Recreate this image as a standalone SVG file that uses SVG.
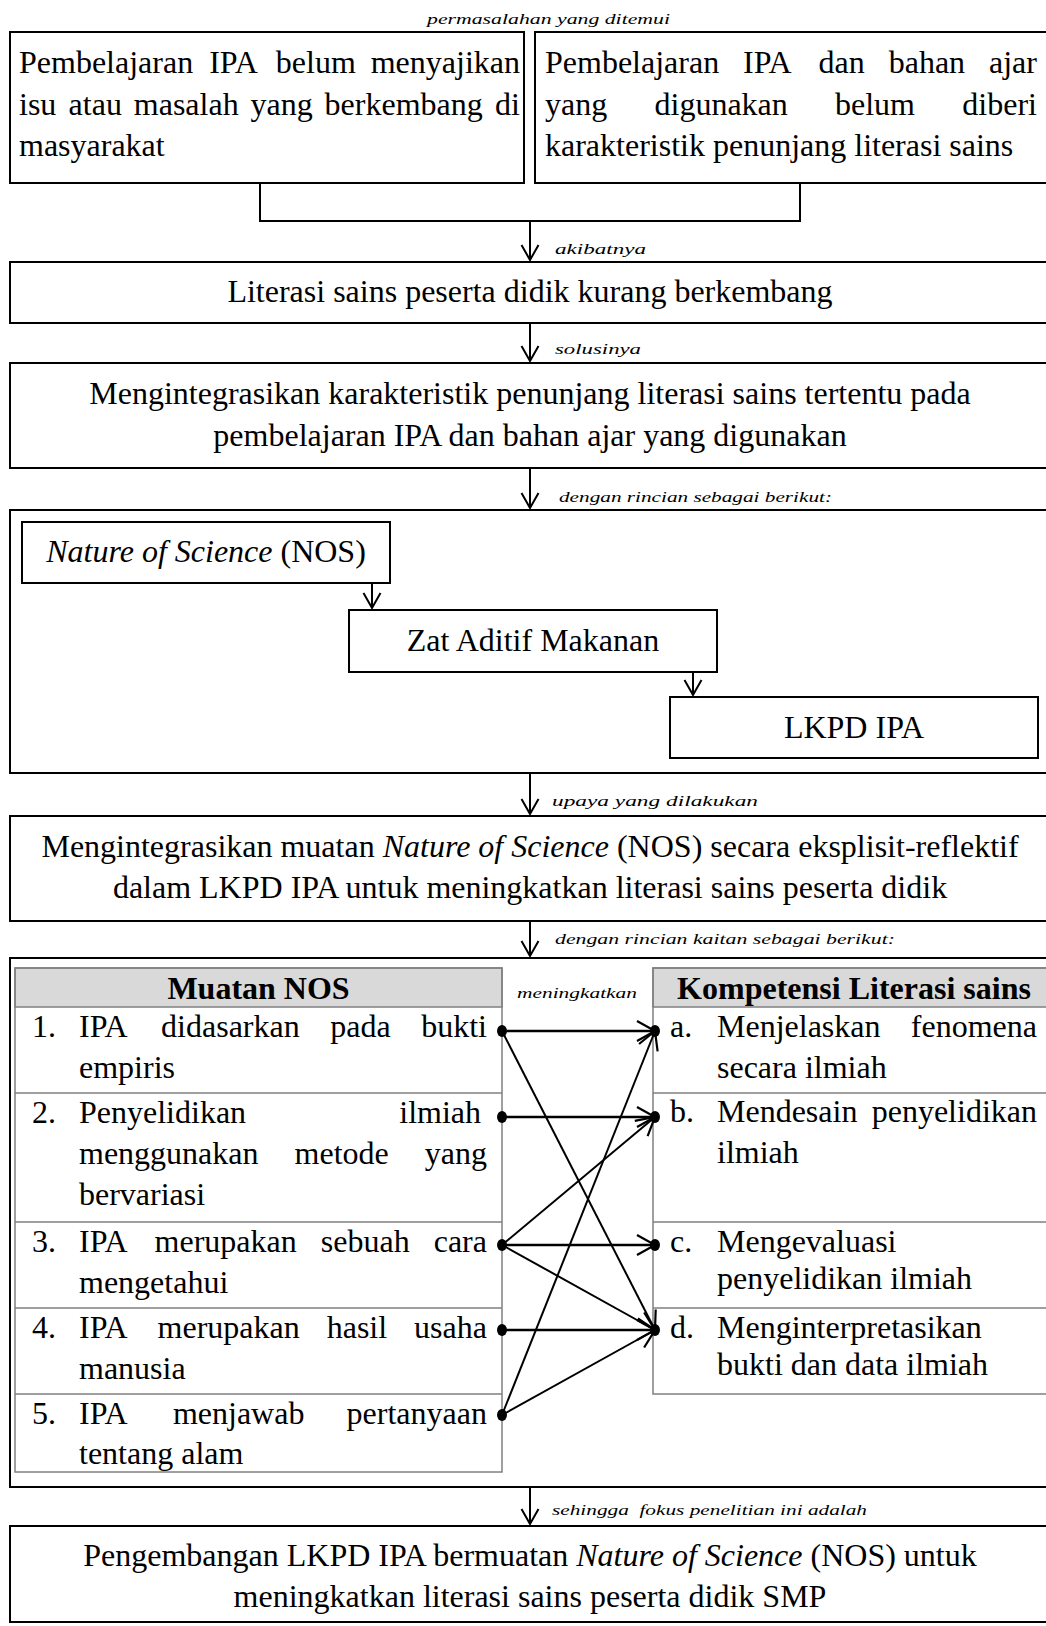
<svg xmlns="http://www.w3.org/2000/svg" width="1046" height="1626" viewBox="0 0 1046 1626">
<style>
.box{fill:#fff;stroke:#000;stroke-width:2}
.tb{fill:none;stroke:#808080;stroke-width:1.5}
.hd{fill:#d9d9d9;stroke:#808080;stroke-width:1.5}
.t{font-family:"Liberation Serif","Times New Roman",serif;font-size:32px;fill:#000}
.c{text-anchor:middle}
.e{text-anchor:end}
.i{font-style:italic}
.b{font-weight:bold}
.lbl{font-family:"Liberation Serif","Times New Roman",serif;font-size:15px;font-style:italic;fill:#000;white-space:pre}
.ln{stroke:#000;stroke-width:2;fill:none}
.hz{stroke:#000;stroke-width:2.6;fill:none}
</style>
<defs>
<marker id="ah" markerUnits="userSpaceOnUse" orient="auto" overflow="visible" markerWidth="1" markerHeight="1" refX="0" refY="0">
<path d="M-15,-8.5 L0,0 L-15,8.5" fill="none" stroke="#000" stroke-width="2"/>
</marker>
<marker id="th" markerUnits="userSpaceOnUse" orient="auto" overflow="visible" markerWidth="1" markerHeight="1" refX="0" refY="0">
<path d="M-18,-10 L0,0 L-18,10" fill="none" stroke="#000" stroke-width="2.2"/>
</marker>
</defs>
<rect width="1046" height="1626" fill="#fff"/>

<g id="labels">
<text class="lbl" x="427" y="24" textLength="243" lengthAdjust="spacingAndGlyphs">permasalahan yang ditemui</text>
<text class="lbl" x="555" y="254" textLength="91" lengthAdjust="spacingAndGlyphs">akibatnya</text>
<text class="lbl" x="555" y="354" textLength="86" lengthAdjust="spacingAndGlyphs">solusinya</text>
<text class="lbl" x="559" y="502" textLength="273" lengthAdjust="spacingAndGlyphs">dengan rincian sebagai berikut:</text>
<text class="lbl" x="552" y="806" textLength="206" lengthAdjust="spacingAndGlyphs">upaya yang dilakukan</text>
<text class="lbl" x="555" y="944" textLength="340" lengthAdjust="spacingAndGlyphs">dengan rincian kaitan sebagai berikut:</text>
<text class="lbl" x="552" y="1515" textLength="315" lengthAdjust="spacingAndGlyphs">sehingga  fokus penelitian ini adalah</text>
</g>

<g id="masalah1">
<rect class="box" x="10" y="32" width="514" height="151"/>
<text class="t" y="73"><tspan x="19">Pembelajaran</tspan><tspan x="209.2">IPA</tspan><tspan x="275.8">belum</tspan><tspan x="370.7">menyajikan</tspan></text>
<text class="t" y="114.5"><tspan x="19">isu</tspan><tspan x="68.6">atau</tspan><tspan x="133.8">masalah</tspan><tspan x="250.5">yang</tspan><tspan x="324.6">berkembang</tspan><tspan x="495.1">di</tspan></text>
<text class="t" x="19" y="156">masyarakat</text>
</g>

<g id="masalah2">
<rect class="box" x="535" y="32" width="525" height="151"/>
<text class="t" y="73"><tspan x="545">Pembelajaran</tspan><tspan x="743.1">IPA</tspan><tspan x="818.6">dan</tspan><tspan x="888.7">bahan</tspan><tspan x="989">ajar</tspan></text>
<text class="t" y="114.5"><tspan x="545">yang</tspan><tspan x="654.5">digunakan</tspan><tspan x="835">belum</tspan><tspan x="962.3">diberi</tspan></text>
<text class="t" x="545" y="156">karakteristik penunjang literasi sains</text>
</g>

<g id="akibat">
<rect class="box" x="10" y="262" width="1050" height="61"/>
<text class="t c" x="530" y="302">Literasi sains peserta didik kurang berkembang</text>
</g>

<g id="solusi">
<rect class="box" x="10" y="363" width="1050" height="105"/>
<text class="t c" x="530" y="404">Mengintegrasikan karakteristik penunjang literasi sains tertentu pada</text>
<text class="t c" x="530" y="446">pembelajaran IPA dan bahan ajar yang digunakan</text>
</g>

<g id="rincian">
<rect class="box" x="10" y="510" width="1050" height="263"/>
</g>

<g id="nos">
<rect class="box" x="22" y="522" width="368" height="61"/>
<text class="t c" x="206" y="562"><tspan class="i">Nature of Science</tspan> (NOS)</text>
</g>

<g id="zat">
<rect class="box" x="349" y="610" width="368" height="62"/>
<text class="t c" x="533" y="651">Zat Aditif Makanan</text>
</g>

<g id="lkpd">
<rect class="box" x="670" y="697" width="368" height="61"/>
<text class="t c" x="854" y="738">LKPD IPA</text>
</g>

<g id="upaya">
<rect class="box" x="10" y="816" width="1050" height="105"/>
<text class="t c" x="530" y="857">Mengintegrasikan muatan <tspan class="i">Nature of Science</tspan> (NOS) secara eksplisit-reflektif</text>
<text class="t c" x="530" y="898">dalam LKPD IPA untuk meningkatkan literasi sains peserta didik</text>
</g>

<g id="kaitan">
<rect class="box" x="10" y="958" width="1050" height="529"/>
<text class="lbl" x="517" y="998" textLength="120" lengthAdjust="spacingAndGlyphs">meningkatkan</text>
</g>

<g id="muatan-nos">
<rect class="hd" x="15" y="968" width="487" height="39"/>
<rect class="tb" x="15" y="968" width="487" height="504"/>
<path class="tb" d="M15,1093H502M15,1222H502M15,1308H502M15,1394H502"/>
<text class="t b c" x="258.5" y="999">Muatan NOS</text>
<text class="t" x="32" y="1037">1.</text>
<text class="t" y="1037"><tspan x="79">IPA</tspan><tspan x="161.1">didasarkan</tspan><tspan x="330.2">pada</tspan><tspan x="421.2">bukti</tspan></text>
<text class="t" x="79" y="1078">empiris</text>
<text class="t" x="32" y="1123">2.</text>
<text class="t" y="1123"><tspan x="79">Penyelidikan</tspan><tspan x="399.3">ilmiah</tspan></text>
<text class="t" y="1164"><tspan x="79">menggunakan</tspan><tspan x="294.6">metode</tspan><tspan x="424.8">yang</tspan></text>
<text class="t" x="79" y="1205">bervariasi</text>
<text class="t" x="32" y="1252">3.</text>
<text class="t" y="1252"><tspan x="79">IPA</tspan><tspan x="154.6">merupakan</tspan><tspan x="320.8">sebuah</tspan><tspan x="433.7">cara</tspan></text>
<text class="t" x="79" y="1293">mengetahui</text>
<text class="t" x="32" y="1338">4.</text>
<text class="t" y="1338"><tspan x="79">IPA</tspan><tspan x="157.6">merupakan</tspan><tspan x="326.7">hasil</tspan><tspan x="414.1">usaha</tspan></text>
<text class="t" x="79" y="1379">manusia</text>
<text class="t" x="32" y="1424">5.</text>
<text class="t" y="1424"><tspan x="79">IPA</tspan><tspan x="172.9">menjawab</tspan><tspan x="346.6">pertanyaan</tspan></text>
<text class="t" x="79" y="1464">tentang alam</text>
</g>

<g id="kompetensi">
<rect class="hd" x="653" y="968" width="410" height="39"/>
<rect class="tb" x="653" y="968" width="410" height="426"/>
<path class="tb" d="M653,1093H1063M653,1222H1063M653,1308H1063"/>
<text class="t b c" x="854" y="999">Kompetensi Literasi sains</text>
<text class="t" x="670" y="1037">a.</text>
<text class="t" y="1037"><tspan x="717">Menjelaskan</tspan><tspan x="910.8">fenomena</tspan></text>
<text class="t" x="717" y="1078">secara ilmiah</text>
<text class="t" x="670" y="1122">b.</text>
<text class="t" y="1122"><tspan x="717">Mendesain</tspan><tspan x="871.7">penyelidikan</tspan></text>
<text class="t" x="717" y="1163">ilmiah</text>
<text class="t" x="670" y="1252">c.</text>
<text class="t" x="717" y="1252">Mengevaluasi</text>
<text class="t" x="717" y="1289">penyelidikan ilmiah</text>
<text class="t" x="670" y="1338">d.</text>
<text class="t" x="717" y="1338">Menginterpretasikan</text>
<text class="t" x="717" y="1375">bukti dan data ilmiah</text>
</g>

<g id="fokus">
<rect class="box" x="10" y="1526" width="1050" height="96"/>
<text class="t c" x="530" y="1566">Pengembangan LKPD IPA bermuatan <tspan class="i">Nature of Science</tspan> (NOS) untuk</text>
<text class="t c" x="530" y="1607">meningkatkan literasi sains peserta didik SMP</text>
</g>

<g id="connectors">
<path class="ln" d="M260,183V221H800V183"/>
<path class="ln" d="M530,221V260" marker-end="url(#ah)"/>
<path class="ln" d="M530,323V361" marker-end="url(#ah)"/>
<path class="ln" d="M530,468V508" marker-end="url(#ah)"/>
<path class="ln" d="M372,583V608" marker-end="url(#ah)"/>
<path class="ln" d="M693,672V695" marker-end="url(#ah)"/>
<path class="ln" d="M530,773V814" marker-end="url(#ah)"/>
<path class="ln" d="M530,921V956" marker-end="url(#ah)"/>
<path class="ln" d="M530,1487V1524" marker-end="url(#ah)"/>

<path class="hz" d="M502,1031H655" marker-end="url(#th)"/>
<path class="ln" d="M502,1031L655,1330" marker-end="url(#th)"/>
<path class="hz" d="M502,1117H655" marker-end="url(#th)"/>
<path class="ln" d="M502,1245L655,1117" marker-end="url(#th)"/>
<path class="hz" d="M502,1245H655" marker-end="url(#th)"/>
<path class="ln" d="M502,1245L655,1330" marker-end="url(#th)"/>
<path class="hz" d="M502,1330H655" marker-end="url(#th)"/>
<path class="ln" d="M502,1415L655,1031" marker-end="url(#th)"/>
<path class="ln" d="M502,1415L655,1330" marker-end="url(#th)"/>
<g fill="#000">
<ellipse cx="502" cy="1031" rx="5" ry="6"/>
<ellipse cx="502" cy="1117" rx="5" ry="6"/>
<ellipse cx="502" cy="1245" rx="5" ry="6"/>
<ellipse cx="502" cy="1330" rx="5" ry="6"/>
<ellipse cx="502" cy="1415" rx="5" ry="6"/>
<ellipse cx="655" cy="1031" rx="5" ry="6"/>
<ellipse cx="655" cy="1117" rx="5" ry="6"/>
<ellipse cx="655" cy="1245" rx="5" ry="6"/>
<ellipse cx="655" cy="1330" rx="5" ry="6"/>
</g>
</g>
</svg>
